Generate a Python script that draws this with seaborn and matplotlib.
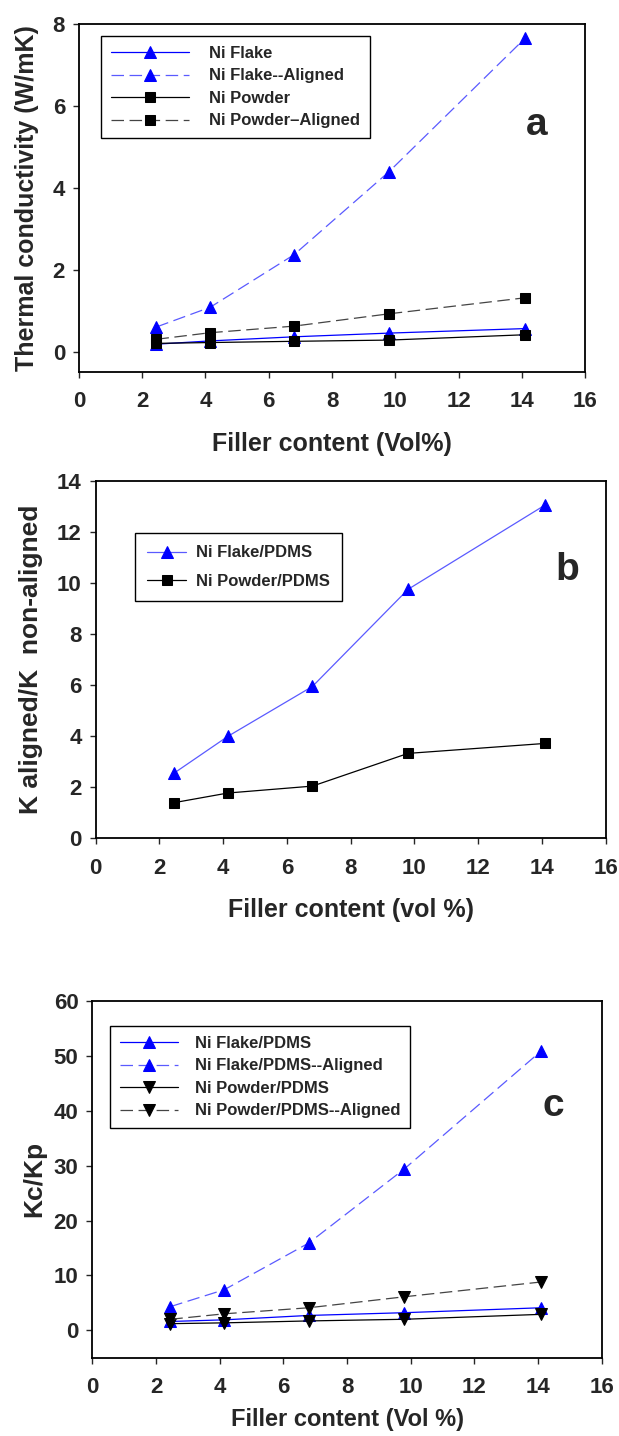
import matplotlib
matplotlib.use("Agg")
import matplotlib.pyplot as plt
import seaborn as sns
import numpy as np

# ---------------- data ----------------
x_vol = [2.45, 4.15, 6.8, 9.8, 14.1]

# panel a: thermal conductivity (W/mK)
a_flake = [0.20, 0.28, 0.38, 0.47, 0.58]
a_flake_aligned = [0.62, 1.10, 2.38, 4.40, 7.65]
a_powder = [0.22, 0.24, 0.27, 0.30, 0.43]
a_powder_aligned = [0.32, 0.48, 0.64, 0.94, 1.33]

# panel b: K aligned / K non-aligned
b_flake = [2.55, 4.00, 5.95, 9.75, 13.05]
b_powder = [1.40, 1.78, 2.05, 3.33, 3.72]

# panel c: Kc/Kp
c_flake = [1.6, 1.9, 2.7, 3.2, 4.1]
c_flake_aligned = [4.3, 7.4, 15.9, 29.4, 50.9]
c_powder = [1.2, 1.35, 1.7, 2.0, 2.9]
c_powder_aligned = [2.0, 3.0, 4.1, 6.1, 8.8]

x_ticks = [0, 2, 4, 6, 8, 10, 12, 14, 16]
a_yticks = [0, 2, 4, 6, 8]
b_yticks = [0, 2, 4, 6, 8, 10, 12, 14]
c_yticks = [0, 10, 20, 30, 40, 50, 60]

# ---------------- style ----------------
sns.set_style("ticks")
plt.rcParams['font.family'] = ['Liberation Sans', 'DejaVu Sans']
plt.rcParams['lines.scale_dashes'] = False

BLUE = "#0000ff"
LBLUE = "#5a5aff"
BLACK = "#000000"
GRAY = "#444444"
DASH = (0, (9, 4))

fig = plt.figure(figsize=(6.19, 14.36), dpi=100)
ax_a = fig.add_axes([0.1276, 0.74116, 0.8175, 0.24213])
ax_b = fig.add_axes([0.1546, 0.41609, 0.8239, 0.24916])
ax_c = fig.add_axes([0.1491, 0.05453, 0.8230, 0.24839])

def series(ax, y, color, mcolor, marker, ls, label, ms=8, lw=0.9):
    sns.lineplot(x=x_vol, y=y, ax=ax, color=color, marker=marker, markersize=ms,
                 markeredgecolor=mcolor, markerfacecolor=mcolor,
                 linestyle=ls, linewidth=lw, label=label, sort=False)

def style_axes(ax, ylim, yticks, xlabel, ylabel, xlab_fs, ylab_fs, ylabpad,
               xlabpad=14, tick_fs=16):
    ax.set_xlim(0, 16)
    ax.set_ylim(*ylim)
    ax.set_xticks(x_ticks)
    ax.set_yticks(yticks)
    ax.set_xticklabels([str(t) for t in x_ticks], fontsize=tick_fs, fontweight='bold')
    ax.set_yticklabels([str(t) for t in yticks], fontsize=tick_fs, fontweight='bold')
    for s in ax.spines.values():
        s.set_visible(True)
        s.set_linewidth(1.3)
        s.set_color("black")
    ax.tick_params(direction='out', length=4, width=1.0)
    ax.tick_params(axis='x', pad=10)
    ax.tick_params(axis='y', pad=6)
    ax.set_xlabel(xlabel, fontsize=xlab_fs, fontweight='bold', labelpad=xlabpad)
    ax.set_ylabel(ylabel, fontsize=ylab_fs, fontweight='bold', labelpad=ylabpad)

LEG = dict(loc='upper left', frameon=True, fancybox=False, edgecolor='black',
           framealpha=1, numpoints=1, borderaxespad=0,
           prop={'weight': 'bold', 'size': 12})

# ---- panel a ----
series(ax_a, a_flake, BLUE, BLUE, '^', '-', 'Ni Flake')
series(ax_a, a_flake_aligned, LBLUE, BLUE, '^', DASH, 'Ni Flake--Aligned')
series(ax_a, a_powder, BLACK, BLACK, 's', '-', 'Ni Powder', ms=7)
series(ax_a, a_powder_aligned, GRAY, BLACK, 's', DASH, 'Ni Powder\u2013Aligned', ms=7)
style_axes(ax_a, (-0.47, 8), a_yticks, 'Filler content (Vol%)',
           'Thermal conductivity (W/mK)', 18, 18, 10)
ax_a.legend(bbox_to_anchor=(0.0435, 0.9655), handlelength=4.7, handletextpad=1.2,
            borderpad=0.6, labelspacing=0.45, **LEG)
ax_a.text(0.905, 0.71, 'a', transform=ax_a.transAxes, fontsize=28, fontweight='bold',
          ha='center', va='center')

# ---- panel b ----
series(ax_b, b_flake, LBLUE, BLUE, '^', '-', 'Ni Flake/PDMS')
series(ax_b, b_powder, BLACK, BLACK, 's', '-', 'Ni Powder/PDMS', ms=7)
style_axes(ax_b, (0, 14), b_yticks, 'Filler content (vol %)',
           'K aligned/K  non-aligned', 18, 19, 10)
ax_b.legend(bbox_to_anchor=(0.077, 0.854), handlelength=2.3, handletextpad=0.6,
            borderpad=0.75, labelspacing=0.8, **LEG)
ax_b.text(0.925, 0.75, 'b', transform=ax_b.transAxes, fontsize=28, fontweight='bold',
          ha='center', va='center')

# ---- panel c ----
series(ax_c, c_flake, BLUE, BLUE, '^', '-', 'Ni Flake/PDMS')
series(ax_c, c_flake_aligned, LBLUE, BLUE, '^', DASH, 'Ni Flake/PDMS--Aligned')
series(ax_c, c_powder, BLACK, BLACK, 'v', '-', 'Ni Powder/PDMS')
series(ax_c, c_powder_aligned, GRAY, BLACK, 'v', DASH, 'Ni Powder/PDMS--Aligned')
style_axes(ax_c, (-5, 60), c_yticks, 'Filler content (Vol %)', 'Kc/Kp', 17, 19, 5,
           xlabpad=7)
ax_c.legend(bbox_to_anchor=(0.0347, 0.93), handlelength=3.5, handletextpad=1.0,
            borderpad=0.6, labelspacing=0.45, **LEG)
ax_c.text(0.905, 0.706, 'c', transform=ax_c.transAxes, fontsize=28, fontweight='bold',
          ha='center', va='center')

fig.savefig('out.png', dpi=100)
